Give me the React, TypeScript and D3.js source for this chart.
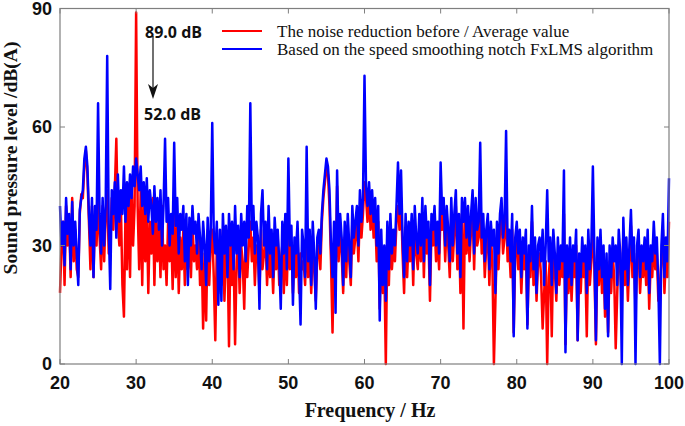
import React from "react";
import * as d3 from "d3";

// spectrum sampled every 0.2 Hz from 20 to 100 Hz (one row = 1 Hz)
const freqStart = 20;
const freqStep = 0.2;

const beforeValues = [
  18, 30, 36, 20, 40,
  30, 36, 22, 42, 26,
  34, 24, 22, 38, 43,
  42, 50, 54, 48, 36,
  24, 40, 22, 38, 30,
  42, 32, 24, 40, 26,
  38, 44, 28, 30, 42,
  34, 44, 57, 36, 30,
  40, 20, 12, 38, 24,
  44, 22, 46, 30, 40,
  89, 40, 24, 44, 20,
  42, 26, 40, 18, 36,
  28, 42, 20, 38, 26,
  36, 22, 40, 24, 30,
  20, 36, 26, 34, 19,
  38, 22, 36, 18, 32,
  24, 34, 20, 30, 24,
  32, 22, 36, 26, 30,
  24, 34, 20, 30, 9,
  28, 11, 34, 20, 30,
  34, 22, 6, 30, 18,
  28, 20, 34, 16, 28,
  30, 4.5, 32, 20, 28,
  5, 26, 32, 18, 30,
  26, 14, 32, 22, 30,
  36, 26, 32, 20, 30,
  28, 18, 34, 24, 28,
  32, 20, 30, 22, 28,
  18, 30, 24, 32, 20,
  26, 30, 18, 32, 20,
  34, 24, 30, 18, 28,
  22, 32, 18, 28, 24,
  26, 20, 34, 22, 30,
  18, 30, 24, 16, 28,
  30, 24, 36, 42, 46,
  50, 48, 40, 26, 8,
  30, 20, 45, 26, 34,
  28, 18, 32, 22, 34,
  26, 20, 36, 28, 32,
  36, 26, 40, 32, 38,
  46, 42, 36, 44, 34,
  40, 32, 38, 26, 36,
  14, 30, 18, 26, 0,
  32, 20, 34, 24, 30,
  26, 36, 40, 34, 42,
  28, 18, 34, 22, 32,
  26, 34, 20, 36, 28,
  24, 34, 26, 38, 22,
  36, 28, 32, 16, 34,
  30, 36, 26, 32, 24,
  40, 34, 38, 26, 36,
  30, 22, 38, 26, 34,
  40, 24, 34, 18, 38,
  9, 38, 28, 36, 26,
  34, 40, 24, 38, 30,
  32, 40, 28, 34, 22,
  30, 34, 20, 32, 26,
  0, 16, 32, 24, 34,
  38, 28, 32, 40, 26,
  30, 22, 34, 8, 28,
  32, 24, 30, 18, 28,
  24, 30, 10, 26, 22,
  36, 20, 28, 16, 26,
  28, 22, 9, 18, 26,
  0, 22, 28, 7, 30,
  24, 16, 28, 20, 26,
  22, 38, 5, 26, 18,
  28, 16, 26, 22, 30,
  6, 24, 18, 28, 22,
  26, 7, 30, 20, 26,
  36, 24, 5, 28, 20,
  30, 18, 26, 12, 24,
  8, 26, 18, 28, 22,
  4, 18, 30, 24, 16,
  33, 20, 28, 16, 26,
  35, 22, 28, 14, 26,
  30, 18, 26, 22, 28,
  20, 30, 14, 26, 22,
  32, 24, 28, 16, 20,
  26, 34, 18, 28, 22,
  36,
];

const notchValues = [
  40, 30, 36, 25, 42,
  33, 38, 24, 41, 30,
  36, 28, 20, 39, 42,
  44, 52, 55, 50, 38,
  30, 42, 22, 40, 34,
  66, 38, 28, 42, 30,
  40, 78, 35, 19, 44,
  38, 46, 32, 48, 36,
  44, 38, 50, 36, 46,
  40, 48, 42, 50, 45,
  52, 48, 44, 50, 40,
  46, 38, 47, 36, 44,
  40, 33, 45, 36, 42,
  34, 44, 30, 40, 57,
  36, 42, 30, 38, 33,
  56, 35, 42, 28, 38,
  34, 40, 26, 38, 20,
  37, 30, 40, 33, 36,
  28, 38, 32, 24, 36,
  30, 20, 37, 26, 34,
  61, 33, 28, 36, 15,
  34, 16, 38, 28, 35,
  22, 38, 30, 36, 24,
  40, 28, 35, 22, 38,
  30, 36, 26, 40, 32,
  66, 34, 40, 28, 36,
  32, 14, 38, 44, 30,
  36, 24, 40, 28, 34,
  22, 37, 30, 34, 26,
  14, 36, 28, 38, 24,
  52, 30, 35, 15, 32,
  28, 36, 24, 10, 34,
  30, 22, 55, 26, 34,
  20, 36, 28, 14, 32,
  34, 28, 38, 44, 48,
  52, 50, 44, 30, 22,
  36, 13, 49, 30, 38,
  32, 20, 36, 26, 38,
  30, 22, 40, 32, 36,
  40, 30, 44, 36, 42,
  73, 45, 40, 46, 38,
  44, 36, 42, 30, 40,
  11, 34, 20, 30, 16,
  36, 24, 38, 28, 34,
  30, 40, 51, 38, 49,
  32, 22, 38, 26, 36,
  30, 38, 24, 40, 32,
  28, 38, 30, 42, 26,
  40, 32, 36, 20, 38,
  34, 40, 30, 36, 28,
  51, 38, 42, 30, 40,
  34, 26, 42, 30, 38,
  44, 28, 38, 22, 42,
  36, 42, 32, 40, 30,
  38, 44, 28, 42, 34,
  36, 56, 32, 38, 26,
  34, 38, 24, 36, 30,
  34, 18, 36, 28, 38,
  42, 32, 36, 59, 30,
  34, 26, 38, 7, 32,
  36, 28, 34, 22, 32,
  28, 34, 9, 30, 26,
  40, 24, 32, 18, 30,
  32, 26, 34, 20, 30,
  44, 26, 32, 20, 34,
  28, 18, 32, 24, 30,
  26, 49, 3, 30, 22,
  32, 20, 30, 26, 34,
  6, 28, 22, 32, 26,
  30, 18, 34, 24, 30,
  50, 28, 6, 32, 24,
  34, 22, 30, 14, 28,
  7, 30, 22, 32, 26,
  30, 20, 34, 28, 0,
  37, 24, 32, 20, 30,
  39, 26, 32, 0, 30,
  34, 22, 30, 26, 32,
  24, 34, 18, 30, 26,
  36, 28, 32, 20, 0,
  30, 38, 22, 32, 26,
  47,
];

const xTicks = [20, 30, 40, 50, 60, 70, 80, 90, 100];
const yTicks = [0, 30, 60, 90];

const legendLabels = [
  "The noise reduction before / Average value",
  "Based on the speed smoothing notch FxLMS algorithm",
];
const seriesColors = ["#ff0000", "#0000ff"];

const width = 685;
const height = 426;
const margin = { top: 8.5, right: 16, bottom: 62, left: 60 };
const axisColor = "#7f7f7f";
const tickFont = "'Liberation Sans', Arial, sans-serif";
const serifFont = "'Liberation Serif', 'Times New Roman', serif";
const noteFont = "'Open Sans', sans-serif";

const App: React.FC = () => {
  const x = d3
    .scaleLinear()
    .domain([20, 100])
    .range([margin.left, width - margin.right]);
  const y = d3
    .scaleLinear()
    .domain([0, 90])
    .range([height - margin.bottom, margin.top]);

  const line = d3
    .line<number>()
    .x((_, i) => x(freqStart + i * freqStep))
    .y((d) => y(d));

  const [x0, x1] = x.range();
  const [y0, y1] = y.range();

  return (
    <svg
      width={width}
      height={height}
      style={{ position: "absolute", left: 0, top: 0, background: "#fff" }}
    >
      <path
        d={line(beforeValues) || ""}
        fill="none"
        stroke={seriesColors[0]}
        strokeWidth={2.5}
        strokeLinejoin="round"
      />
      <path
        d={line(notchValues) || ""}
        fill="none"
        stroke={seriesColors[1]}
        strokeWidth={2.5}
        strokeLinejoin="round"
      />

      {/* frame + inward ticks on all four sides */}
      <rect
        x={x0}
        y={y1}
        width={x1 - x0}
        height={y0 - y1}
        fill="none"
        stroke={axisColor}
        strokeWidth={1.2}
      />
      {xTicks.map((t) => (
        <g key={"x" + t}>
          <line x1={x(t)} x2={x(t)} y1={y0} y2={y0 - 5} stroke={axisColor} />
          <line x1={x(t)} x2={x(t)} y1={y1} y2={y1 + 5} stroke={axisColor} />
          <text
            x={x(t)}
            y={y0 + 25}
            textAnchor="middle"
            fontFamily={tickFont}
            fontWeight="bold"
            fontSize={18}
            fill="#111"
          >
            {t}
          </text>
        </g>
      ))}
      {yTicks.map((t) => (
        <g key={"y" + t}>
          <line x1={x0} x2={x0 + 5} y1={y(t)} y2={y(t)} stroke={axisColor} />
          <line x1={x1} x2={x1 - 5} y1={y(t)} y2={y(t)} stroke={axisColor} />
          <text
            x={x0 - 8}
            y={y(t)}
            dy="0.35em"
            textAnchor="end"
            fontFamily={tickFont}
            fontWeight="bold"
            fontSize={18}
            fill="#111"
          >
            {t}
          </text>
        </g>
      ))}

      {/* axis titles */}
      <text
        x={370}
        y={417}
        textAnchor="middle"
        fontFamily={serifFont}
        fontWeight="bold"
        fontSize={20}
        fill="#111"
      >
        Frequency / Hz
      </text>
      <text
        transform="translate(17,158) rotate(-90)"
        textAnchor="middle"
        fontFamily={serifFont}
        fontWeight="bold"
        fontSize={19.5}
        fill="#111"
      >
        Sound pressure level /dB(A)
      </text>

      {/* legend */}
      {legendLabels.map((label, i) => (
        <g key={label} transform={`translate(222,${31 + i * 18})`}>
          <line x1={0} x2={40} y1={0} y2={0} stroke={seriesColors[i]} strokeWidth={2} />
          <text
            x={55}
            y={0}
            dy="0.33em"
            fontFamily={serifFont}
            fontSize={17}
            fill="#111"
          >
            {label}
          </text>
        </g>
      ))}

      {/* annotation of the 30 Hz peak */}
      <text x={145} y={38} fontFamily={noteFont} fontWeight="bold" fontSize={16} fill="#111">
        89.0 dB
      </text>
      <line x1={153} x2={153} y1={36} y2={90} stroke="#111" strokeWidth={1.2} />
      <path d="M148,84 L153,99 L158,84 L153,88 Z" fill="#111" />
      <text x={144} y={120} fontFamily={noteFont} fontWeight="bold" fontSize={16} fill="#111">
        52.0 dB
      </text>
    </svg>
  );
};

export default App;
